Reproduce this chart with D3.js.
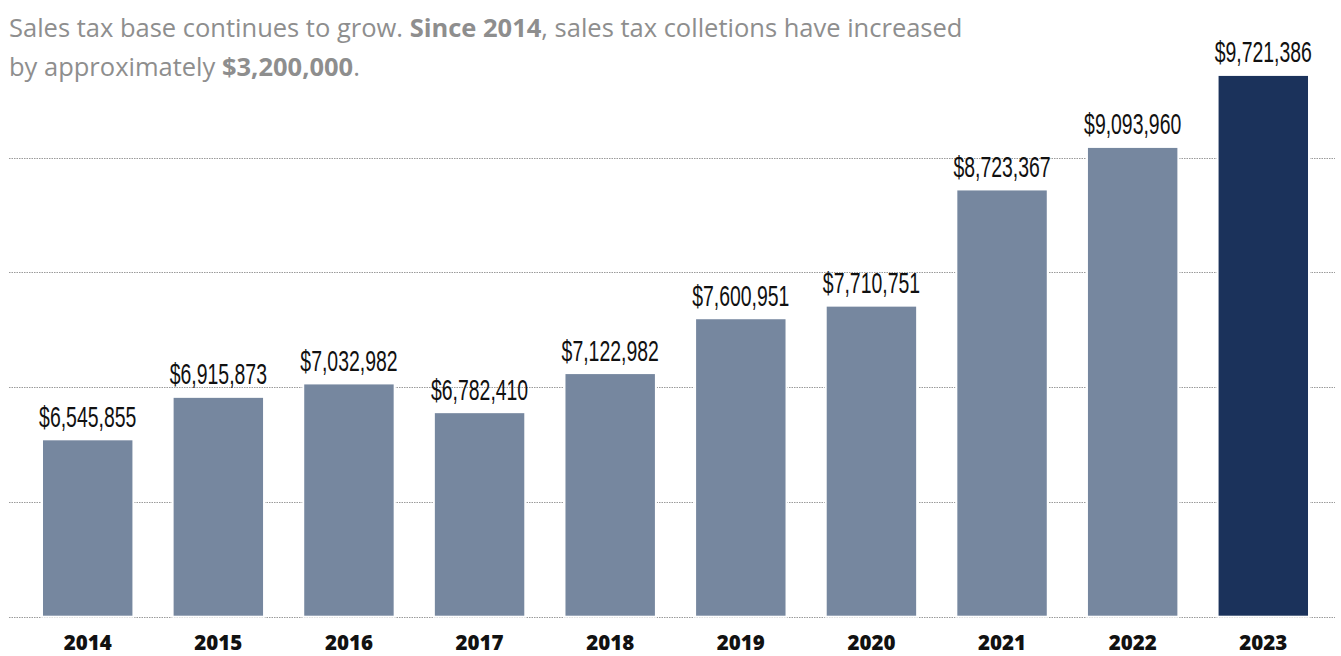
<!DOCTYPE html>
<html>
<head>
<meta charset="utf-8">
<script src="https://cdn.jsdelivr.net/npm/d3@7"></script>
<style>
  html, body { margin: 0; padding: 0; background: #fff; }
  svg { display: block; }
</style>
</head>
<body>
<div id="chart"></div>
<script>
// 데이터
const years = ['2014', '2015', '2016', '2017', '2018', '2019', '2020', '2021', '2022', '2023'];
const collections = [6545855, 6915873, 7032982, 6782410, 7122982, 7600951, 7710751, 8723367, 9093960, 9721386];
const gridValues = [5000000, 6000000, 7000000, 8000000, 9000000];
const highlightYear = '2023';

const width = 1341;
const height = 656;

const svg = d3.select('#chart')
    .append('svg')
    .attr('width', width)
    .attr('height', height);

// 스케일
const x = d3.scaleBand()
    .domain(years)
    .range([22.4, 1328.6])
    .paddingInner(0.3)
    .paddingOuter(0.15);

const y = d3.scaleLinear()
    .domain([5000000, 9000000])
    .range([616.7, 157.7]);

// 그리드 라인
svg.append('g')
    .selectAll('line')
    .data(gridValues)
    .enter()
    .append('line')
    .attr('x1', 9)
    .attr('x2', 1335)
    .attr('y1', d => Math.round(y(d)) + 0.5)
    .attr('y2', d => Math.round(y(d)) + 0.5)
    .style('stroke', '#9a9a9a')
    .style('stroke-width', '1px')
    .style('stroke-dasharray', '1.5,1');

// 막대
svg.append('g')
    .selectAll('rect')
    .data(years)
    .enter()
    .append('rect')
    .attr('x', d => x(d))
    .attr('width', x.bandwidth())
    .attr('y', (d, i) => y(collections[i]))
    .attr('height', (d, i) => y(5000000) - y(collections[i]))
    .style('fill', d => d === highlightYear ? '#1b325b' : '#76879f')
    .style('stroke', '#ffffff')
    .style('stroke-width', '2px');

// 값 라벨 (좁은 글꼴 느낌을 위해 가로로 압축)
const fmt = d3.format('$,');
svg.append('g')
    .selectAll('text')
    .data(years)
    .enter()
    .append('text')
    .attr('transform', (d, i) => `translate(${x(d) + x.bandwidth() / 2},${y(collections[i]) - 12.5}) scale(0.67,1)`)
    .attr('text-anchor', 'middle')
    .style('font-family', '"Liberation Sans", sans-serif')
    .style('font-size', '29px')
    .style('fill', '#111')
    .text((d, i) => fmt(collections[i]));

// 연도 라벨
svg.append('g')
    .selectAll('text')
    .data(years)
    .enter()
    .append('text')
    .attr('x', d => x(d) + x.bandwidth() / 2)
    .attr('y', 650)
    .attr('text-anchor', 'middle')
    .style('font-family', '"Open Sans", sans-serif')
    .style('font-weight', 800)
    .style('font-size', '20.5px')
    .style('fill', '#111')
    .text(d => d);

// 제목
const titleLines = [
    [['Sales tax base continues to grow. ', 400], ['Since 2014', 700], [', sales tax colletions have increased', 400]],
    [['by approximately ', 400], ['$3,200,000', 700], ['.', 400]]
];
const titleBaselines = [36.7, 75.5];

titleLines.forEach((parts, li) => {
    const t = svg.append('text')
        .attr('x', 9)
        .attr('y', titleBaselines[li])
        .style('font-family', '"Open Sans", sans-serif')
        .style('font-size', '25.5px')
        .style('fill', '#8e8e8e');
    parts.forEach(([str, w]) => {
        t.append('tspan').style('font-weight', w).text(str);
    });
});
</script>
</body>
</html>
